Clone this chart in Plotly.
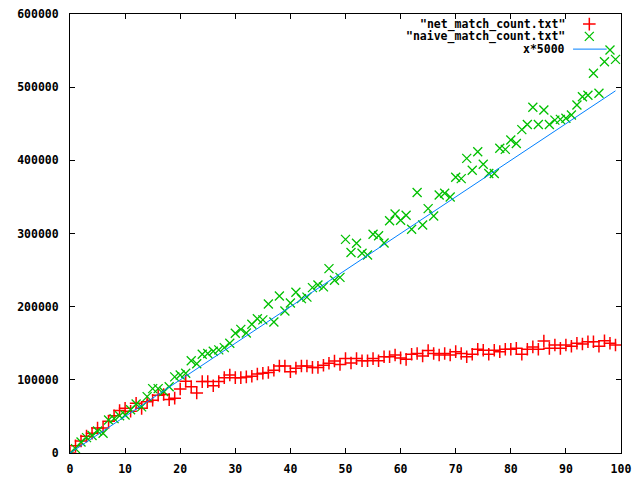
import plotly.graph_objects as go

# data (counts per input size)
xs = list(range(100))

net_match = [
    0, 10, 16.5, 23, 27, 34, 34, 43.5, 51, 58,
    61, 57, 68, 61, 70, 72, 79, 80, 73, 75,
    87.5, 98, 90.5, 82, 97.6, 97.6, 92, 97.6, 103, 106.6,
    103, 103, 104, 105, 108, 109, 110, 113, 119, 119,
    111, 116, 119, 119, 117, 117, 120, 122.6, 125.7, 121,
    129, 123, 129, 126, 126, 129, 126, 131.6, 131.6, 134,
    130, 128, 135, 136, 132.6, 140, 136, 134, 136, 134,
    138.5, 136, 131.6, 135, 141.7, 140.5, 135, 140.5, 138.5, 141.7,
    141.7, 143, 135, 141.7, 145, 141.7, 153, 143, 147.6, 143,
    147.6, 145.8, 150, 149, 152, 152, 146, 153.5, 150, 147.6,
]

naive_match = [
    0, 6, 15, 21, 24, 30, 27, 45, 47, 51,
    52, 59, 67, 63, 77, 88, 88, 84, 90.6, 104,
    106.6, 109, 126, 122, 135, 136, 139, 141, 144, 150,
    163.6, 169, 164, 176, 183.5, 182, 203.6, 179, 214.6, 194,
    205, 219.6, 211, 213, 226, 229.6, 227, 252, 236, 240,
    292, 274, 286.6, 273, 270.6, 299, 297, 287, 317.5, 326.6,
    318, 325, 305.7, 356, 311.6, 334, 324, 352.6, 355, 350,
    376.8, 375, 402.7, 386.5, 411.8, 394.6, 382, 382, 416.4, 415,
    427.8, 423, 442, 449, 472.5, 449, 468.8, 449, 455, 456,
    457.5, 462, 475.6, 487, 489, 519, 491.6, 534.8, 550.8, 538,
]

net_y = [v * 1000 for v in net_match]
naive_y = [v * 1000 for v in naive_match]
ref_y = [x * 5000 for x in xs]

labels = ['"net_match_count.txt"', '"naive_match_count.txt"', "x*5000"]

RED = "#ff0000"
GREEN = "#00c000"
BLUE = "#0080ff"
FONT = dict(family="DejaVu Sans Mono", size=11.5, color="black", weight="bold")

red_marker = dict(symbol="cross-thin-open", size=9, color=RED, line=dict(color=RED, width=1.5))
green_marker = dict(symbol="x-thin-open", size=9, color=GREEN, line=dict(color=GREEN, width=1.3))

fig = go.Figure()

fig.add_trace(go.Scatter(x=xs, y=net_y, mode="markers", name=labels[0], marker=red_marker))
fig.add_trace(go.Scatter(x=xs, y=naive_y, mode="markers", name=labels[1], marker=green_marker))
fig.add_trace(go.Scatter(x=xs, y=ref_y, mode="lines", name=labels[2],
                         line=dict(color=BLUE, width=1)))

# gnuplot style key: text right aligned, sample to the right
key_y = [0.977, 0.949, 0.92]
fig.add_trace(go.Scatter(x=[0.9425], y=[key_y[0]], xaxis="x2", yaxis="y2",
                         mode="markers", showlegend=False, hoverinfo="skip", marker=red_marker))
fig.add_trace(go.Scatter(x=[0.9425], y=[key_y[1]], xaxis="x2", yaxis="y2",
                         mode="markers", showlegend=False, hoverinfo="skip", marker=green_marker))
fig.add_trace(go.Scatter(x=[0.913, 0.974], y=[key_y[2], key_y[2]], xaxis="x2", yaxis="y2",
                         mode="lines", showlegend=False, hoverinfo="skip",
                         line=dict(color=BLUE, width=1)))

for lab, ky in zip(labels, key_y):
    fig.add_annotation(text=lab, xref="paper", yref="paper", x=0.9, y=ky,
                       xanchor="right", yanchor="middle", showarrow=False, font=FONT,
                       borderpad=0)

axis_common = dict(showline=True, linecolor="black", linewidth=1, mirror="allticks",
                   ticks="inside", ticklen=5, tickcolor="black", showgrid=False,
                   zeroline=False, tickfont=FONT, automargin=False,
                   ticklabeloverflow="allow")

# the page has an 8px body margin, so the figure is 8px smaller than the window
fig.update_layout(
    width=632, height=472,
    margin=dict(l=62, r=19, t=6, b=27),
    paper_bgcolor="white", plot_bgcolor="white",
    showlegend=False,
    xaxis=dict(range=[0, 100], dtick=10, ticklabelstandoff=5, **axis_common),
    yaxis=dict(range=[0, 600000], dtick=100000, tickformat="d",
               ticklabelstandoff=8, **axis_common),
    xaxis2=dict(overlaying="x", range=[0, 1], visible=False),
    yaxis2=dict(overlaying="y", range=[0, 1], visible=False),
)

fig.write_html("out.html")
